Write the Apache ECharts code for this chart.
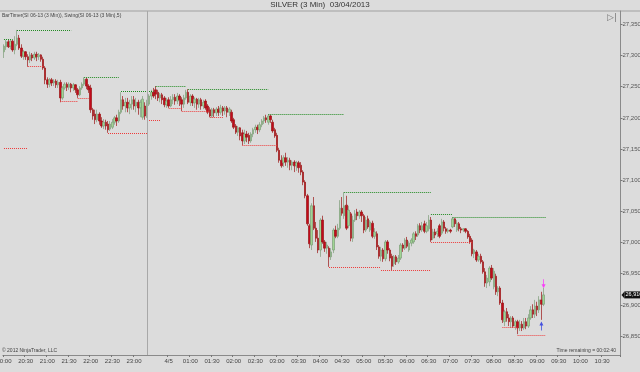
<!DOCTYPE html>
<html><head><meta charset="utf-8">
<script src="https://cdn.jsdelivr.net/npm/echarts@6/dist/echarts.min.js"></script>
<style>html,body{margin:0;padding:0;background:#dcdcdc;overflow:hidden}#c{width:640px;height:372px}</style>
</head><body><div id="c"></div>
<script>
// ---- data ----
const chartTitle = 'SILVER (3 Min)  03/04/2013';
const indicatorText = 'BarTimer(SI 06-13 (3 Min)), Swing(SI 06-13 (3 Min),5)';
const copyrightText = '\u00a9 2012 NinjaTrader, LLC';
const timerText = 'Time remaining = 00:02:40';
// trading sessions of 3-minute bars
const sessions = [{start: '20:00', bars: 66}, {start: '00:00', bars: 219}];
const barMinutes = 3;
const tickTimes = ['20:00','20:30','21:00','21:30','22:00','22:30','23:00','00:30','01:00','01:30','02:00','02:30','03:00','03:30','04:00','04:30','05:00','05:30','06:00','06:30','07:00','07:30','08:00','08:30','09:00','09:30','10:00','10:30'];
const dateLabels = {'00:30': '4/5'};
const sessionBreaks = [65.5];
// [open, close, low, high]
const candles = [
[27.306,27.315,27.296,27.318],[27.314,27.322,27.309,27.325],[27.322,27.314,27.312,27.326],[27.315,27.323,27.310,27.326],[27.323,27.309,27.306,27.325],
[27.309,27.318,27.302,27.331],[27.318,27.328,27.315,27.341],[27.328,27.312,27.309,27.333],[27.312,27.299,27.296,27.318],[27.299,27.306,27.293,27.309],
[27.306,27.298,27.293,27.307],[27.298,27.293,27.282,27.302],[27.293,27.301,27.288,27.306],[27.301,27.296,27.291,27.304],[27.296,27.302,27.293,27.306],
[27.302,27.298,27.291,27.306],[27.298,27.301,27.293,27.304],[27.301,27.294,27.290,27.302],[27.294,27.280,27.277,27.298],[27.280,27.261,27.254,27.283],
[27.261,27.254,27.248,27.265],[27.254,27.261,27.249,27.264],[27.261,27.256,27.251,27.264],[27.256,27.259,27.251,27.262],[27.259,27.253,27.248,27.262],
[27.253,27.257,27.248,27.261],[27.257,27.232,27.225,27.261],[27.232,27.248,27.229,27.251],[27.248,27.254,27.245,27.257],[27.254,27.249,27.243,27.257],
[27.249,27.254,27.245,27.257],[27.254,27.248,27.241,27.256],[27.248,27.253,27.243,27.256],[27.253,27.245,27.240,27.254],[27.245,27.237,27.232,27.248],
[27.237,27.248,27.235,27.251],[27.248,27.254,27.245,27.257],[27.254,27.262,27.251,27.265],[27.262,27.251,27.246,27.264],[27.251,27.245,27.240,27.254],
[27.248,27.213,27.208,27.253],[27.213,27.203,27.197,27.216],[27.206,27.197,27.190,27.213],[27.197,27.206,27.193,27.213],[27.206,27.195,27.189,27.209],
[27.195,27.187,27.184,27.201],[27.187,27.193,27.182,27.198],[27.193,27.187,27.181,27.197],[27.190,27.181,27.176,27.195],[27.182,27.190,27.179,27.195],
[27.185,27.193,27.182,27.198],[27.193,27.200,27.189,27.203],[27.200,27.195,27.187,27.205],[27.195,27.209,27.192,27.213],[27.209,27.229,27.206,27.241],
[27.229,27.219,27.213,27.235],[27.219,27.225,27.209,27.232],[27.225,27.216,27.209,27.232],[27.216,27.222,27.206,27.229],[27.222,27.229,27.213,27.235],
[27.229,27.219,27.213,27.235],[27.219,27.225,27.209,27.232],[27.225,27.216,27.205,27.229],[27.216,27.225,27.201,27.229],[27.201,27.230,27.197,27.235],
[27.219,27.203,27.197,27.225],[27.206,27.222,27.200,27.229],[27.222,27.235,27.219,27.238],[27.235,27.241,27.229,27.245],[27.241,27.235,27.232,27.248],
[27.245,27.238,27.230,27.251],[27.241,27.232,27.227,27.245],[27.232,27.237,27.225,27.240],[27.237,27.229,27.222,27.240],[27.232,27.221,27.217,27.235],
[27.221,27.227,27.216,27.232],[27.229,27.219,27.216,27.233],[27.219,27.229,27.217,27.235],[27.229,27.233,27.222,27.238],[27.233,27.227,27.221,27.238],
[27.227,27.235,27.222,27.240],[27.235,27.229,27.219,27.238],[27.229,27.222,27.211,27.233],[27.222,27.232,27.216,27.237],[27.232,27.241,27.229,27.245],
[27.241,27.225,27.222,27.246],[27.225,27.235,27.219,27.238],[27.235,27.224,27.219,27.238],[27.224,27.230,27.216,27.233],[27.230,27.222,27.213,27.232],
[27.222,27.229,27.216,27.232],[27.229,27.219,27.213,27.232],[27.219,27.225,27.214,27.229],[27.227,27.216,27.213,27.230],[27.219,27.209,27.206,27.222],
[27.213,27.203,27.201,27.217],[27.203,27.213,27.200,27.216],[27.213,27.208,27.201,27.216],[27.208,27.214,27.203,27.217],[27.214,27.209,27.203,27.219],
[27.209,27.216,27.205,27.221],[27.216,27.211,27.203,27.219],[27.211,27.216,27.205,27.219],[27.216,27.209,27.201,27.219],[27.209,27.214,27.203,27.217],
[27.209,27.195,27.192,27.213],[27.197,27.185,27.182,27.200],[27.187,27.177,27.174,27.190],[27.177,27.184,27.171,27.187],[27.184,27.171,27.164,27.185],
[27.176,27.163,27.156,27.181],[27.163,27.174,27.158,27.181],[27.174,27.169,27.161,27.179],[27.172,27.163,27.158,27.176],[27.163,27.174,27.160,27.177],
[27.174,27.181,27.169,27.184],[27.181,27.185,27.176,27.189],[27.185,27.181,27.174,27.189],[27.181,27.189,27.177,27.193],[27.189,27.195,27.185,27.198],
[27.195,27.200,27.190,27.203],[27.200,27.197,27.192,27.205],[27.193,27.203,27.189,27.206],[27.203,27.197,27.192,27.205],[27.193,27.179,27.176,27.197],
[27.181,27.171,27.168,27.184],[27.172,27.148,27.145,27.176],[27.148,27.132,27.128,27.152],[27.132,27.123,27.120,27.140],[27.128,27.136,27.121,27.140],
[27.136,27.129,27.123,27.144],[27.129,27.132,27.120,27.137],[27.132,27.124,27.116,27.136],[27.124,27.129,27.116,27.132],[27.129,27.123,27.113,27.132],
[27.123,27.128,27.115,27.131],[27.128,27.120,27.112,27.131],[27.124,27.113,27.108,27.129],[27.113,27.097,27.092,27.116],[27.097,27.075,27.071,27.100],
[27.075,27.030,27.027,27.078],[27.027,26.998,26.991,27.030],[26.996,27.059,26.988,27.063],[27.059,27.023,27.020,27.073],[27.023,27.007,27.001,27.033],
[27.007,26.988,26.983,27.020],[26.988,27.036,26.977,27.039],[27.036,27.001,26.998,27.043],[27.001,26.991,26.985,27.004],[26.991,26.996,26.982,27.001],
[26.991,26.977,26.961,26.994],[26.977,26.985,26.972,26.991],[26.988,27.020,26.983,27.023],[27.020,27.010,27.007,27.027],[27.010,27.023,27.007,27.030],
[27.023,27.055,27.020,27.068],[27.055,27.047,27.043,27.073],[27.043,27.059,27.038,27.081],[27.060,27.023,27.020,27.075],[27.027,27.052,27.023,27.059],
[27.046,27.007,27.002,27.049],[27.007,27.036,27.001,27.043],[27.036,27.046,27.033,27.052],[27.049,27.043,27.036,27.054],[27.043,27.049,27.038,27.052],
[27.049,27.043,27.033,27.052],[27.043,27.020,27.015,27.046],[27.020,27.036,27.017,27.041],[27.038,27.025,27.022,27.043],[27.020,27.033,27.017,27.036],
[27.031,27.010,27.007,27.035],[27.010,27.017,27.006,27.023],[27.014,26.993,26.988,27.018],[26.993,26.978,26.974,26.996],[26.978,26.988,26.970,26.993],
[26.988,26.974,26.969,26.991],[26.974,27.001,26.970,27.004],[27.001,26.988,26.982,27.004],[26.988,26.975,26.970,26.991],[26.978,26.962,26.956,26.982],
[26.966,26.977,26.961,26.980],[26.977,26.969,26.964,26.980],[26.969,26.975,26.966,26.980],[26.975,26.996,26.972,26.999],[26.996,26.991,26.985,26.999],
[26.991,27.004,26.988,27.007],[27.004,26.994,26.991,27.009],[26.988,26.999,26.985,27.002],[26.999,27.004,26.994,27.007],[27.001,27.014,26.998,27.017],
[27.014,27.010,27.004,27.018],[27.012,27.027,27.009,27.030],[27.027,27.020,27.015,27.031],[27.020,27.027,27.017,27.033],[27.030,27.018,27.015,27.035],
[27.018,27.027,27.015,27.033],[27.022,27.036,27.018,27.044],[27.036,27.004,27.001,27.041],[27.007,27.017,27.004,27.022],[27.017,27.012,27.007,27.022],
[27.014,27.018,27.009,27.023],[27.027,27.010,27.007,27.030],[27.015,27.033,27.012,27.038],[27.033,27.023,27.018,27.036],[27.022,27.018,27.014,27.025],
[27.018,27.020,27.015,27.023],[27.020,27.018,27.015,27.022],[27.025,27.038,27.023,27.041],[27.038,27.030,27.025,27.039],[27.020,27.031,27.017,27.036],
[27.030,27.022,27.018,27.033],[27.022,27.020,27.015,27.025],[27.020,27.022,27.017,27.023],[27.022,27.018,27.015,27.023],[27.018,27.009,27.006,27.020],
[27.010,27.001,26.998,27.014],[27.004,26.982,26.978,27.007],[26.982,26.988,26.975,26.990],[26.985,26.972,26.969,26.988],[26.972,26.978,26.969,26.982],
[26.978,26.969,26.966,26.982],[26.969,26.953,26.950,26.972],[26.953,26.935,26.929,26.959],[26.935,26.943,26.927,26.948],[26.937,26.959,26.930,26.962],
[26.959,26.943,26.940,26.964],[26.929,26.954,26.925,26.959],[26.946,26.921,26.916,26.950],[26.921,26.927,26.914,26.930],[26.927,26.903,26.900,26.930],
[26.903,26.876,26.871,26.908],[26.873,26.889,26.866,26.892],[26.889,26.879,26.873,26.895],[26.879,26.873,26.866,26.885],[26.873,26.879,26.863,26.882],
[26.879,26.866,26.863,26.882],[26.866,26.873,26.860,26.876],[26.873,26.863,26.853,26.876],[26.863,26.869,26.858,26.876],[26.869,26.863,26.858,26.874],
[26.863,26.873,26.860,26.879],[26.873,26.866,26.861,26.879],[26.866,26.879,26.863,26.885],[26.879,26.892,26.876,26.898],[26.892,26.885,26.879,26.901],
[26.885,26.898,26.879,26.908],[26.898,26.892,26.882,26.905],[26.892,26.908,26.887,26.914],[26.908,26.901,26.876,26.921],[26.901,26.916,26.898,26.927]
];
// swing levels: [fromBar, toBar, price]
const swingHighs = [[0,4,27.326],[6,31,27.341],[37,53,27.265],[54,69,27.242],[70,84,27.251],[85,122,27.246],[122,157,27.206],[157,197,27.081],[197,207,27.046],[207,250,27.041]];
const swingLows = [[0,11,27.151],[11,18,27.282],[26,34,27.226],[34,39,27.232],[48,66,27.176],[66,72,27.196],[76,82,27.216],[82,95,27.211],[95,101,27.201],[110,126,27.156],[150,174,26.960],[174,197,26.956],[197,216,27.000],[230,237,26.864],[237,250,26.852]];
// signal arrows: [bar, price]
const sellArrows = [[249, 26.934]];
const buyArrows = [[248, 26.866]];
const yMin = 26.8196, yMax = 27.3714, yStep = 0.05;

// ---- build ----
const categories = [];
sessions.forEach(s => {
  const [h, m] = s.start.split(':').map(Number);
  for (let i = 0; i < s.bars; i++) {
    const t = (h * 60 + m + barMinutes * i) % 1440;
    categories.push(String(Math.floor(t / 60)).padStart(2, '0') + ':' + String(t % 60).padStart(2, '0'));
  }
});
const fmtPrice = v => v.toFixed(3).replace('.', ',');
const lastClose = candles[candles.length - 1][1];

const markData = [];
swingHighs.forEach(([a, b, p]) => markData.push([
  {coord: [a, p], lineStyle: {color: '#1f8a1f', type: [1, 1], width: 1}},
  {coord: [b, p]}]));
swingLows.forEach(([a, b, p]) => markData.push([
  {coord: [a, p], lineStyle: {color: '#ee3a3a', type: [1, 1], width: 1}},
  {coord: [b, p]}]));
sessionBreaks.forEach(x => markData.push({xAxis: x, lineStyle: {color: '#a8a8a8', type: 'solid', width: 1}}));

const downArrow = 'path://M4,0 L6,0 L6,9 L10,9 L5,16 L0,9 L4,9 Z';
const chart = echarts.init(document.getElementById('c'), null, {renderer: 'canvas'});
const font = 'Liberation Sans';
chart.setOption({
  animation: false,
  backgroundColor: '#dcdcdc',
  textStyle: {fontFamily: font},
  grid: {left: 2.9, right: 19.5, top: 11, bottom: 17, containLabel: false, outerBoundsMode: 'none'},
  xAxis: {
    type: 'category', data: categories, boundaryGap: true,
    axisLine: {lineStyle: {color: '#8a8a8a', width: 1}},
    axisTick: {show: true, length: 2, lineStyle: {color: '#777'}, interval: (i, v) => tickTimes.includes(v)},
    axisLabel: {interval: (i, v) => tickTimes.includes(v), formatter: v => dateLabels[v] || v,
      fontSize: 6, color: '#444', margin: 3, hideOverlap: false},
    splitLine: {show: false}
  },
  yAxis: {
    type: 'value', position: 'right', min: yMin, max: yMax, scale: true,
    minInterval: yStep, maxInterval: yStep, splitNumber: 11,
    axisLine: {show: true, lineStyle: {color: '#8a8a8a', width: 1}},
    axisTick: {show: true, length: 2, lineStyle: {color: '#777'}},
    axisLabel: {formatter: fmtPrice, fontSize: 6, color: '#555', margin: 2, showMinLabel: false, showMaxLabel: false},
    splitLine: {show: false}
  },
  series: [{
    type: 'candlestick', data: candles, barWidth: '88%',
    itemStyle: {color: '#9fd592', color0: '#c20a1c', borderColor: '#7d9c78', borderColor0: '#9a1414', borderWidth: 0.7},
    markLine: {silent: true, symbol: 'none', animation: false, label: {show: false}, data: markData}
  }, {
    type: 'scatter', data: sellArrows, symbol: downArrow, symbolSize: [4, 9],
    itemStyle: {color: '#ff1aff'}, z: 5
  }, {
    type: 'scatter', data: buyArrows, symbol: downArrow, symbolRotate: 180, symbolSize: [4, 9],
    itemStyle: {color: '#1f30e0'}, z: 5
  }]
});
// current-price flag on the price axis, placed through the axis scale
const axisX = chart.convertToPixel({xAxisIndex: 0}, categories[categories.length - 1]) + 2.17 / 2;
const priceY = chart.convertToPixel({yAxisIndex: 0}, lastClose);
chart.setOption({graphic: [
  {type: 'line', shape: {x1: 0, y1: 11, x2: 640, y2: 11}, style: {stroke: '#a0a0a0', lineWidth: 1}},
  {type: 'text', left: 'center', top: 1, style: {text: chartTitle, fontSize: 8, fill: '#333', fontFamily: font}},
  {type: 'text', left: 2, top: 13, style: {text: indicatorText, fontSize: 5, fill: '#444', fontFamily: font}},
  {type: 'text', left: 2, top: 348, style: {text: copyrightText, fontSize: 5, fill: '#444', fontFamily: font}},
  {type: 'text', right: 24, top: 348, style: {text: timerText, fontSize: 5, fill: '#444', fontFamily: font}},
  {type: 'text', right: 23, top: 13, style: {text: '\u25b7|', fontSize: 9, fill: '#777', fontFamily: 'DejaVu Sans'}},
  {type: 'polygon', shape: {points: [[axisX + 1, priceY], [axisX + 4, priceY - 3.5], [axisX + 4, priceY + 3.5]]}, style: {fill: '#111'}, z: 10},
  {type: 'text', x: axisX + 4, y: priceY, z: 10, style: {text: fmtPrice(lastClose), fontSize: 5.5, fontFamily: font, fill: '#fff',
    backgroundColor: '#111', padding: [1, 1, 0, 1], verticalAlign: 'middle', align: 'left'}}
]});
</script></body></html>
